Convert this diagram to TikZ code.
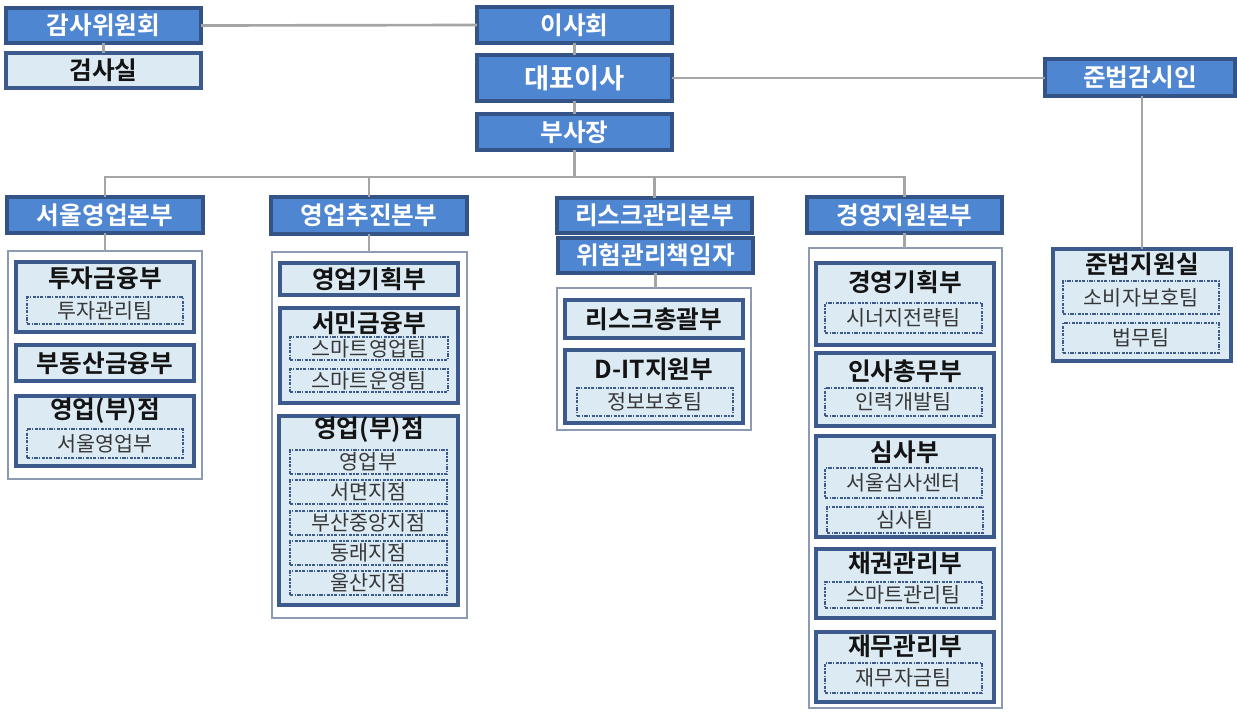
\documentclass[tikz,border=0pt]{standalone}
\usepackage{fontspec}
\setmainfont{Noto Sans CJK KR}[BoldFont={Noto Sans CJK KR Bold}]
\definecolor{hdrfill}{RGB}{79,134,210}
\definecolor{hdrline}{RGB}{52,84,135}
\definecolor{lightfill}{RGB}{220,234,244}
\definecolor{deptline}{RGB}{60,90,140}
\definecolor{contline}{RGB}{140,155,178}
\definecolor{connline}{RGB}{165,165,165}
\definecolor{txt}{RGB}{20,20,20}
\tikzset{
  boxbase/.style={inner sep=0pt, outer sep=0pt},
  hdr/.style={boxbase, fill=hdrfill, draw=hdrline, line width=2.4pt, text=white, font=\fontsize{18.5}{20}\selectfont\bfseries},
  dept/.style={boxbase, fill=lightfill, draw=deptline, line width=2.6pt, text=txt, font=\fontsize{18.5}{20}\selectfont\bfseries},
  cont/.style={boxbase, fill=white, draw=contline, line width=0.9pt},
  team/.style={boxbase, fill=lightfill, draw=deptline, line width=1.3pt, dash pattern={on 2.5pt off 1pt on 1pt off 1pt}, text=txt!85, font=\fontsize{15.5}{17}\selectfont},
  ttl/.style={inner sep=0pt, text=txt, font=\fontsize{18.5}{20}\selectfont\bfseries},
  conn/.style={draw=connline, line width=2pt}
}
\newcommand\bx[7]{\node[#1, minimum width={(#5-#3)*0.75pt}, minimum height={(#6-#4)*0.75pt}] (#2) at ({(#3+#5)/2},{(#4+#6)/2}) {#7};}
\begin{document}
\begin{tikzpicture}[x=0.75pt,y=-0.75pt]
\useasboundingbox (0,0) rectangle (1237,711);
% containers
\bx{cont}{seoulC}{8}{251}{202}{479}{}
\bx{cont}{salesC}{272}{252}{467}{618}{}
\bx{cont}{riskC}{557}{288}{751}{430}{}
\bx{cont}{mgmtC}{809}{248}{1002}{708}{}
% top headers
\bx{hdr}{audit}{6}{8}{201}{43}{감사위원회}
\bx{dept}{inspect}{6}{53}{201}{88}{검사실}
\bx{hdr}{board}{477}{7}{672}{43}{이사회}
\bx{hdr}{ceo}{477}{55}{672}{101}{\fontsize{20.5}{22}\selectfont 대표이사}
\bx{hdr}{vp}{477}{114}{672}{150}{부사장}
\bx{hdr}{comp}{1045}{59}{1235}{96}{준법감시인}
% division headers
\bx{hdr}{seoulH}{7}{197}{203}{233}{서울영업본부}
\bx{hdr}{salesH}{271}{197}{467}{234}{영업추진본부}
\bx{hdr}{riskH}{557}{198}{752}{233}{리스크관리본부}
\bx{hdr}{riskO}{558}{238}{753}{273}{위험관리책임자}
\bx{hdr}{mgmtH}{807}{197}{1002}{233}{경영지원본부}
% compliance support
\bx{dept}{csup}{1053}{249}{1231}{361}{}
\node[ttl] (csupT) at (1142,264) {준법지원실};
\bx{team}{csup1}{1063}{281}{1219}{314}{소비자보호팀}
\bx{team}{csup2}{1063}{323}{1219}{353}{법무팀}
% Seoul
\bx{dept}{d1}{16}{262}{194}{332}{}
\node[ttl] (d1T) at (105,278) {투자금융부};
\bx{team}{d1a}{27}{297}{183}{324}{투자관리팀}
\bx{dept}{d2}{16}{345}{194}{381}{부동산금융부}
\bx{dept}{d3}{16}{396}{194}{466}{}
\node[ttl] (d3T) at (105,411) {영업(부)점};
\bx{team}{d3a}{27}{429}{183}{458}{서울영업부}
% Sales
\bx{dept}{s1}{280}{263}{458}{295}{영업기획부}
\bx{dept}{s2}{280}{308}{458}{403}{}
\node[ttl] (s2T) at (369,323) {서민금융부};
\bx{team}{s2a}{290}{337}{448}{360}{스마트영업팀}
\bx{team}{s2b}{290}{369}{448}{392}{스마트운영팀}
\bx{dept}{s3}{279}{416}{458}{605}{}
\node[ttl] (s3T) at (369,430) {영업(부)점};
\bx{team}{s3a}{290}{450}{447}{474}{영업부}
\bx{team}{s3b}{290}{480}{447}{504}{서면지점}
\bx{team}{s3c}{290}{511}{447}{535}{부산중앙지점}
\bx{team}{s3d}{290}{541}{447}{565}{동래지점}
\bx{team}{s3e}{290}{571}{447}{595}{울산지점}
% Risk
\bx{dept}{r1}{565}{300}{743}{338}{리스크총괄부}
\bx{dept}{r2}{565}{350}{743}{423}{}
\node[ttl] (r2T) at (654,369) {D-IT지원부};
\bx{team}{r2a}{577}{388}{733}{416}{정보보호팀}
% Management
\bx{dept}{m1}{816}{263}{994}{345}{}
\node[ttl] (m1T) at (905,282) {경영기획부};
\bx{team}{m1a}{825}{303}{982}{333}{시너지전략팀}
\bx{dept}{m2}{816}{353}{994}{426}{}
\node[ttl] (m2T) at (905,371) {인사총무부};
\bx{team}{m2a}{825}{388}{982}{416}{인력개발팀}
\bx{dept}{m3}{816}{436}{994}{537}{}
\node[ttl] (m3T) at (905,452) {심사부};
\bx{team}{m3a}{825}{468}{982}{498}{서울심사센터}
\bx{team}{m3b}{827}{507}{983}{533}{심사팀}
\bx{dept}{m4}{816}{549}{994}{618}{}
\node[ttl] (m4T) at (905,563) {채권관리부};
\bx{team}{m4a}{825}{582}{982}{608}{스마트관리팀}
\bx{dept}{m5}{816}{632}{994}{702}{}
\node[ttl] (m5T) at (905,646) {재무관리부};
\bx{team}{m5a}{825}{663}{982}{693}{재무자금팀}
% connectors
\coordinate (bus) at (574.5,177);
\draw[conn] (audit.east) -- (board.west);
\draw[conn] (audit.south) -- (inspect.north);
\draw[conn] (board.south) -- (ceo.north);
\draw[conn] (ceo.south) -- (vp.north);
\draw[conn] (ceo.east) -- (ceo.east -| comp.west);
\draw[conn] (csup.north |- comp.south) -- (csup.north);
\draw[conn] (vp.south) -- (bus);
\draw[conn] (seoulH.north) |- (bus) -| (mgmtH.north);
\draw[conn] (salesH.north) -- (salesH.north |- bus);
\draw[conn] (riskH.north) -- (riskH.north |- bus);
\draw[conn] (seoulH.south) -- (seoulH.south |- seoulC.north);
\draw[conn] (salesH.south) -- (salesH.south |- salesC.north);
\draw[conn] (riskO.south) -- (riskO.south |- riskC.north);
\draw[conn] (mgmtH.south) -- (mgmtH.south |- mgmtC.north);
\end{tikzpicture}
\end{document}
